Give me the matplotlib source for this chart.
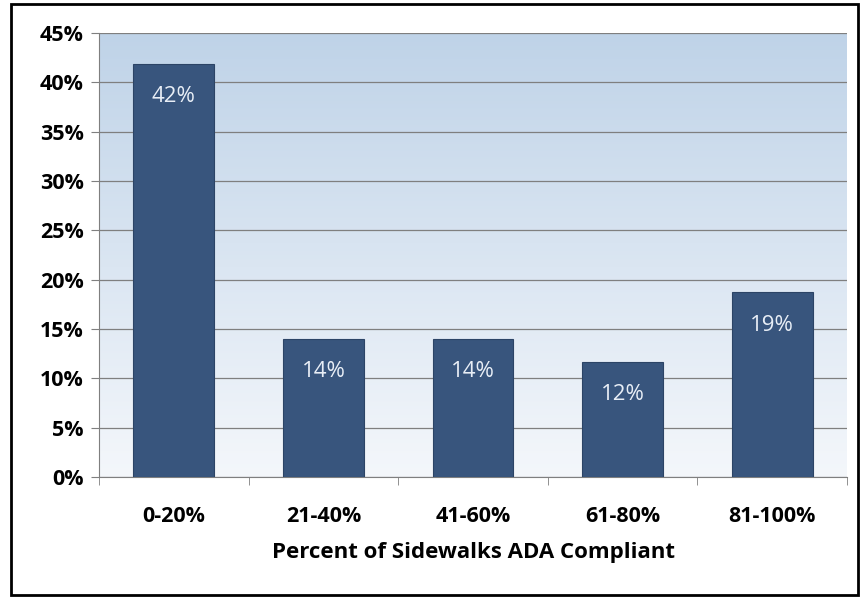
import numpy as np
from matplotlib import pyplot as plt
from matplotlib import ticker
from matplotlib.colors import LinearSegmentedColormap
from matplotlib.patches import Rectangle

categories = ["0-20%", "21-40%", "41-60%", "61-80%", "81-100%"]
values = [41.9, 14.0, 14.0, 11.7, 18.7]
value_labels = ["42%", "14%", "14%", "12%", "19%"]

plt.rcParams['font.family'] = ['Open Sans', 'DejaVu Sans']

fig = plt.figure(figsize=(8.64, 5.98), dpi=100)
ax = fig.add_axes([99 / 864, 1 - 477 / 598, 748 / 864, 444 / 598])

# Hintergrund-Verlauf im Plotbereich
grad = np.linspace(0, 1, 256).reshape(-1, 1)
cmap = LinearSegmentedColormap.from_list("bg", ["#f4f7fb", "#bfd3e8"])
ax.imshow(grad, aspect="auto", cmap=cmap, origin="lower",
          extent=[0, 1, 0, 1], transform=ax.transAxes, zorder=0)

x = np.arange(len(categories))
bars = ax.bar(x, values, width=0.54, color="#38557d", edgecolor="#2c4466",
              linewidth=0.8, zorder=3)

for b, lab in zip(bars, value_labels):
    ax.text(b.get_x() + b.get_width() / 2, b.get_height() - 3.3, lab,
            ha="center", va="center", color="#e8eef6", fontsize=16, zorder=4)

ax.set_xlim(-0.5, len(categories) - 0.5)
ax.set_ylim(0, 45)
ax.yaxis.set_major_locator(ticker.MultipleLocator(5))
ax.yaxis.set_major_formatter(ticker.FuncFormatter(lambda v, p: f"{v:.0f}%"))
ax.grid(axis="y", color="#7f7f7f", linewidth=0.9, zorder=1)

ax.set_xticks(x)
ax.set_xticklabels(categories, fontsize=15.5, fontweight="bold")
ax.set_xticks(np.arange(-0.5, len(categories)), minor=True)
ax.tick_params(axis="x", which="major", length=0, pad=21)
ax.tick_params(axis="x", which="minor", length=6, color="#7f7f7f")
ax.tick_params(axis="y", length=6, color="#7f7f7f", labelsize=15.5, pad=5)
for t in ax.get_yticklabels():
    t.set_fontweight("bold")

ax.set_xlabel("Percent of Sidewalks ADA Compliant", fontsize=16,
              fontweight="bold", labelpad=11)

for s in ["top", "right"]:
    ax.spines[s].set_visible(False)
ax.spines["left"].set_color("#7f7f7f")
ax.spines["bottom"].set_color("#7f7f7f")

# Rahmen um die ganze Grafik
fig.patches.append(Rectangle((11 / 864, 3 / 598), 847 / 864, 591 / 598,
                             transform=fig.transFigure, fill=False,
                             edgecolor="black", linewidth=2))

fig.savefig("out.png", dpi=100, facecolor="white")
